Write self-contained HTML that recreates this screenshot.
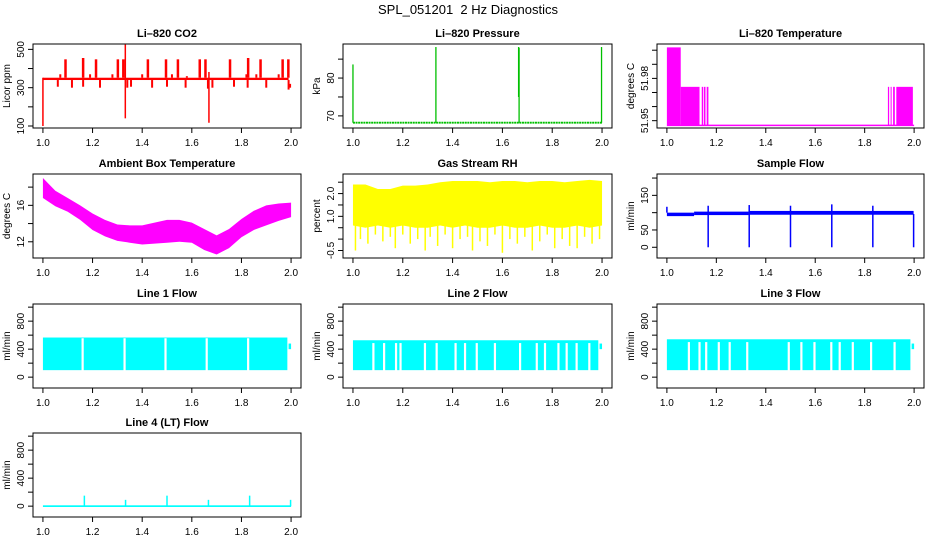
<!DOCTYPE html>
<html><head><meta charset="utf-8"><style>
html,body{margin:0;padding:0;background:#fff;}
svg{display:block;font-family:"Liberation Sans",Arial,sans-serif;}
</style></head><body>
<svg id="chart" width="936" height="540" viewBox="0 0 936 540" xmlns="http://www.w3.org/2000/svg">
<rect x="0" y="0" width="936" height="540" fill="#fff"/>
<text x="468" y="14" font-size="13" text-anchor="middle">SPL_051201&#160;&#160;2 Hz Diagnostics</text>
</svg>
<script>
// ---- data arrays ----
const xTicks=[1.0,1.2,1.4,1.6,1.8,2.0];
const xTickLabels=['1.0','1.2','1.4','1.6','1.8','2.0'];

const co2Ticks=[100,200,300,400,500];
const co2TickLabels=['100','','300','','500'];
const co2BaseLo=340, co2BaseHi=352;
const co2SpikeX=[1.091,1.162,1.214,1.302,1.324,1.423,1.496,1.544,1.632,1.655,1.754,1.827,1.877,1.966,1.989];
const co2SpikeV=[448,455,448,448,448,448,448,448,448,448,448,455,448,448,448];
const co2BigX=[1.0,1.332,1.669];
const co2BigLo=[100,140,117];
const co2BigHi=[352,525,382];
const co2DipX=[1.06,1.117,1.162,1.23,1.34,1.355,1.44,1.5,1.575,1.665,1.683,1.77,1.825,1.9,1.99];
const co2DipV=[305,300,305,300,300,305,300,305,300,295,300,305,300,300,290];
const co2BumpX=[1.07,1.19,1.28,1.4,1.52,1.58,1.82,1.86,1.95];
const co2BumpV=[370,370,370,370,370,360,370,370,370];

const presTicks=[70,75,80,85];
const presTickLabels=['70','','80',''];
const presBase=68.2;
const presSpikeX=[1.0,1.333,1.665,1.667,1.998];
const presSpikeV=[83.6,88.2,88.2,88.0,88.2];
const presSpikeLo=[68.2,68.2,75,68.2,68.2];

const tempTicks=[51.95,51.96,51.97,51.98,51.99,52.00];
const tempTickLabels=['51.95','','','51.98','',''];
const tempBase=51.9467;
const tempSegX0=[1.0,1.056,1.141,1.150,1.161,1.894,1.905,1.915,1.928];
const tempSegX1=[1.056,1.132,1.147,1.156,1.168,1.899,1.909,1.922,1.995];
const tempSegV=[52.002,51.974,51.974,51.974,51.974,51.974,51.974,51.974,51.974];

const ambTicks=[12,14,16,18];
const ambTickLabels=['12','','16',''];
const ambX=[1.0,1.05,1.1,1.15,1.2,1.25,1.3,1.35,1.4,1.45,1.5,1.55,1.6,1.65,1.7,1.75,1.8,1.85,1.9,1.95,2.0];
const ambHi=[19.0,17.6,16.8,16.0,15.1,14.4,13.9,13.8,13.8,14.1,14.4,14.4,14.1,13.4,12.7,13.4,14.5,15.4,16.0,16.2,16.3];
const ambLo=[16.8,15.9,15.3,14.4,13.3,12.6,12.1,11.9,11.7,11.8,11.9,12.0,11.9,11.1,10.6,11.3,12.5,13.3,13.8,14.3,14.7];

const rhTicks=[-0.5,0,0.5,1.0,1.5,2.0,2.5];
const rhTickLabels=['-0.5','','','1.0','','2.0',''];
const rhX=[1.0,1.05,1.1,1.15,1.2,1.25,1.3,1.35,1.4,1.45,1.5,1.55,1.6,1.65,1.7,1.75,1.8,1.85,1.9,1.95,2.0];
const rhHi=[2.4,2.4,2.2,2.2,2.35,2.35,2.4,2.5,2.55,2.55,2.55,2.5,2.55,2.55,2.5,2.55,2.55,2.5,2.55,2.6,2.55];
const rhLo=[0.6,0.5,0.6,0.5,0.6,0.5,0.5,0.6,0.5,0.6,0.5,0.5,0.6,0.5,0.5,0.6,0.5,0.5,0.6,0.5,0.6];
const rhSpikeX=[1.01,1.03,1.06,1.09,1.12,1.15,1.17,1.2,1.23,1.26,1.29,1.31,1.34,1.37,1.4,1.43,1.46,1.48,1.51,1.54,1.57,1.6,1.63,1.66,1.69,1.72,1.75,1.78,1.81,1.84,1.87,1.9,1.93,1.96,1.99];
const rhSpikeV=[-0.5,0.0,-0.2,0.2,-0.1,0.1,-0.4,0.2,-0.2,0.0,-0.5,0.1,-0.3,0.2,-0.4,0.0,0.1,-0.5,-0.1,-0.3,0.2,-0.6,0.0,-0.2,0.1,-0.5,-0.1,0.2,-0.4,0.0,-0.3,-0.4,0.1,-0.2,0.0];

const sfTicks=[0,50,100,150,200];
const sfTickLabels=['0','50','','150',''];
const sfSegX0=[1.0,1.11,1.33];
const sfSegX1=[1.11,1.33,1.998];
const sfSegLo=[90,93,94];
const sfSegHi=[100,103,105];
const sfDipX=[1.167,1.333,1.5,1.667,1.833,1.998];
const sfSpikeX=[1.0,1.167,1.333,1.5,1.667,1.833];
const sfSpikeV=[117,120,122,120,124,120];

const flowTicks=[0,200,400,600,800,1000];
const flowTickLabels=['0','','400','','800',''];
const flowTop=[566,527,541];
const flowBot=100;
const flowGaps1=[1.16,1.329,1.494,1.66,1.827];
const flowGaps2=[1.082,1.125,1.173,1.191,1.289,1.336,1.412,1.45,1.497,1.57,1.671,1.738,1.771,1.825,1.858,1.898,1.949];
const flowGaps3=[1.089,1.132,1.159,1.21,1.254,1.325,1.493,1.544,1.597,1.665,1.699,1.752,1.826,1.921];

const lt4SpikeX=[1.167,1.333,1.5,1.667,1.833,1.998];
const lt4SpikeV=[150,90,150,90,150,90];

// ---- layout ----
const NS='http://www.w3.org/2000/svg';
const svg=document.getElementById('chart');
const cols=[{l:33,w:268},{l:343,w:269},{l:657,w:267}];
const rowTop=[44,174,304,433];
const PH=84;
function mk(tag,attrs,parent){const e=document.createElementNS(NS,tag);for(const k in attrs)e.setAttribute(k,attrs[k]);(parent||svg).appendChild(e);return e;}

function panel(name,c,r,title,ylab,ymin,ymax,ticks,labels){
  const L=cols[c].l,W=cols[c].w,T=rowTop[r],B=T+PH;
  const g=mk('g',{});
  
  
  const x=v=>L+(v-0.96)/1.08*W;
  const y=v=>B-(v-ymin)/(ymax-ymin)*PH;
  const clipId='clip-'+name;
  const cp=mk('clipPath',{id:clipId},g);
  mk('rect',{x:L,y:T,width:W,height:PH},cp);
  const marks=mk('g',{'clip-path':'url(#'+clipId+')'},g);
  
  
  const box=mk('rect',{x:L,y:T,width:W,height:PH,fill:'none',stroke:'#000','stroke-width':1},g);
  
  
  const t=mk('text',{x:L+W/2,y:T-7,'font-size':11,'font-weight':'bold','text-anchor':'middle'},g);
  t.textContent=title;
  
  
  const yl=mk('text',{transform:'translate('+(L-23)+','+(T+PH/2)+') rotate(-90)','font-size':10,'text-anchor':'middle'},g);
  yl.textContent=ylab;
  
  
  ticks.forEach((v,i)=>{
    const ty=y(v);
    const tk=mk('line',{x1:L-5,x2:L,y1:ty,y2:ty,stroke:'#000'},g);
    
    
    if(labels[i]){
      const tl=mk('text',{transform:'translate('+(L-9)+','+ty+') rotate(-90)','font-size':10,'text-anchor':'middle'},g);
      tl.textContent=labels[i];
      
      
    }
  });
  xTicks.forEach((v,i)=>{
    const tx=x(v);
    const tk=mk('line',{x1:tx,x2:tx,y1:B,y2:B+5,stroke:'#000'},g);
    
    
    const tl=mk('text',{x:tx,y:B+18,'font-size':10,'text-anchor':'middle'},g);
    tl.textContent=xTickLabels[i];
    
    
  });
  return {x,y,m:marks};
}
function vline(p,xv,y0,y1,col,w,nm){const e=mk('line',{x1:p.x(xv),x2:p.x(xv),y1:p.y(y0),y2:p.y(y1),stroke:col,'stroke-width':w},p.m);return e;}
function band(p,x0,x1,lo,hi,col,nm){const e=mk('rect',{x:p.x(x0),y:p.y(hi),width:Math.max(0.5,p.x(x1)-p.x(x0)),height:Math.max(0.5,p.y(lo)-p.y(hi)),fill:col},p.m);return e;}
function area(p,xs,hi,lo,col,nm){let pts=xs.map((v,i)=>p.x(v)+','+p.y(hi[i]));for(let i=xs.length-1;i>=0;i--)pts.push(p.x(xs[i])+','+p.y(lo[i]));const e=mk('polygon',{points:pts.join(' '),fill:col},p.m);return e;}

// CO2
const pCO2=panel('co2-panel',0,0,'Li–820 CO2','Licor ppm',89.6,528,co2Ticks,co2TickLabels);
band(pCO2,1.0,1.99,co2BaseLo,co2BaseHi,'#ff0000','co2-baseline');
co2SpikeX.forEach((v,i)=>vline(pCO2,v,co2BaseHi,co2SpikeV[i],'#ff0000',2.5,'co2-spike'));
co2BumpX.forEach((v,i)=>vline(pCO2,v,co2BaseHi,co2BumpV[i],'#ff0000',2,'co2-bump'));
co2DipX.forEach((v,i)=>vline(pCO2,v,co2BaseLo,co2DipV[i],'#ff0000',2,'co2-dip'));
co2BigX.forEach((v,i)=>vline(pCO2,v,co2BigLo[i],co2BigHi[i],'#ff0000',1.5,'co2-big-spike'));
band(pCO2,1.99,2.0,300,320,'#ff0000','co2-end');

// Pressure
const pP=panel('pressure-panel',1,0,'Li–820 Pressure','kPa',66.8,89.0,presTicks,presTickLabels);
{const e=mk('line',{x1:pP.x(1.0),x2:pP.x(2.0),y1:pP.y(presBase),y2:pP.y(presBase),stroke:'#00c000','stroke-width':1.8,'stroke-dasharray':'2,0.6'},pP.m);}
presSpikeX.forEach((v,i)=>vline(pP,v,presSpikeLo[i],presSpikeV[i],'#00c000',1.3,'pressure-spike'));

// Temperature
const pT=panel('temperature-panel',2,0,'Li–820 Temperature','degrees C',51.9448,52.0044,tempTicks,tempTickLabels);
{const e=mk('line',{x1:pT.x(1.0),x2:pT.x(2.0),y1:pT.y(tempBase),y2:pT.y(tempBase),stroke:'#ff00ff','stroke-width':1.5},pT.m);}
tempSegX0.forEach((v,i)=>band(pT,v,tempSegX1[i],tempBase,tempSegV[i],'#ff00ff','temperature-segment'));

// Ambient
const pA=panel('ambient-temperature-panel',0,1,'Ambient Box Temperature','degrees C',10.22,19.44,ambTicks,ambTickLabels);
area(pA,ambX,ambHi,ambLo,'#ff00ff','ambient-band');

// RH
const pR=panel('rh-panel',1,1,'Gas Stream RH','percent',-0.83,2.86,rhTicks,rhTickLabels);
area(pR,rhX,rhHi,rhLo,'#ffff00','rh-band');
rhSpikeX.forEach((v,i)=>vline(pR,v,0.6,rhSpikeV[i],'#ffff00',1.5,'rh-spike'));

// Sample flow
const pS=panel('sample-flow-panel',2,1,'Sample Flow','ml/min',-31,211.7,sfTicks,sfTickLabels);
sfSegX0.forEach((v,i)=>band(pS,v,sfSegX1[i],sfSegLo[i],sfSegHi[i],'#0000ff','sample-flow-band'));
sfDipX.forEach(v=>vline(pS,v,96,0,'#0000ff',1.5,'sample-flow-dip'));
sfSpikeX.forEach((v,i)=>vline(pS,v,100,sfSpikeV[i],'#0000ff',1.5,'sample-flow-spike'));

// Line flows
const flowGaps=[flowGaps1,flowGaps2,flowGaps3];
['line-1-flow-panel','line-2-flow-panel','line-3-flow-panel'].forEach((nm,k)=>{
  const p=panel(nm,k,2,'Line '+(k+1)+' Flow','ml/min',-155,1045,flowTicks,flowTickLabels);
  band(p,1.0,1.985,flowBot,flowTop[k],'#00ffff',nm+'-band');
  band(p,1.99,2.0,400,480,'#00ffff',nm+'-end');
  flowGaps[k].forEach(v=>vline(p,v,flowBot-5,flowTop[k]-(k===0?10:40),'#ffffff',2.2,nm+'-gap'));
});

// Line 4
const p4=panel('line-4-flow-panel',0,3,'Line 4 (LT) Flow','ml/min',-155,1045,flowTicks,flowTickLabels);
band(p4,1.0,2.0,-12,12,'#00ffff','line-4-baseline');
lt4SpikeX.forEach((v,i)=>vline(p4,v,0,lt4SpikeV[i],'#00ffff',1.5,'line-4-spike'));
</script>
</body></html>
